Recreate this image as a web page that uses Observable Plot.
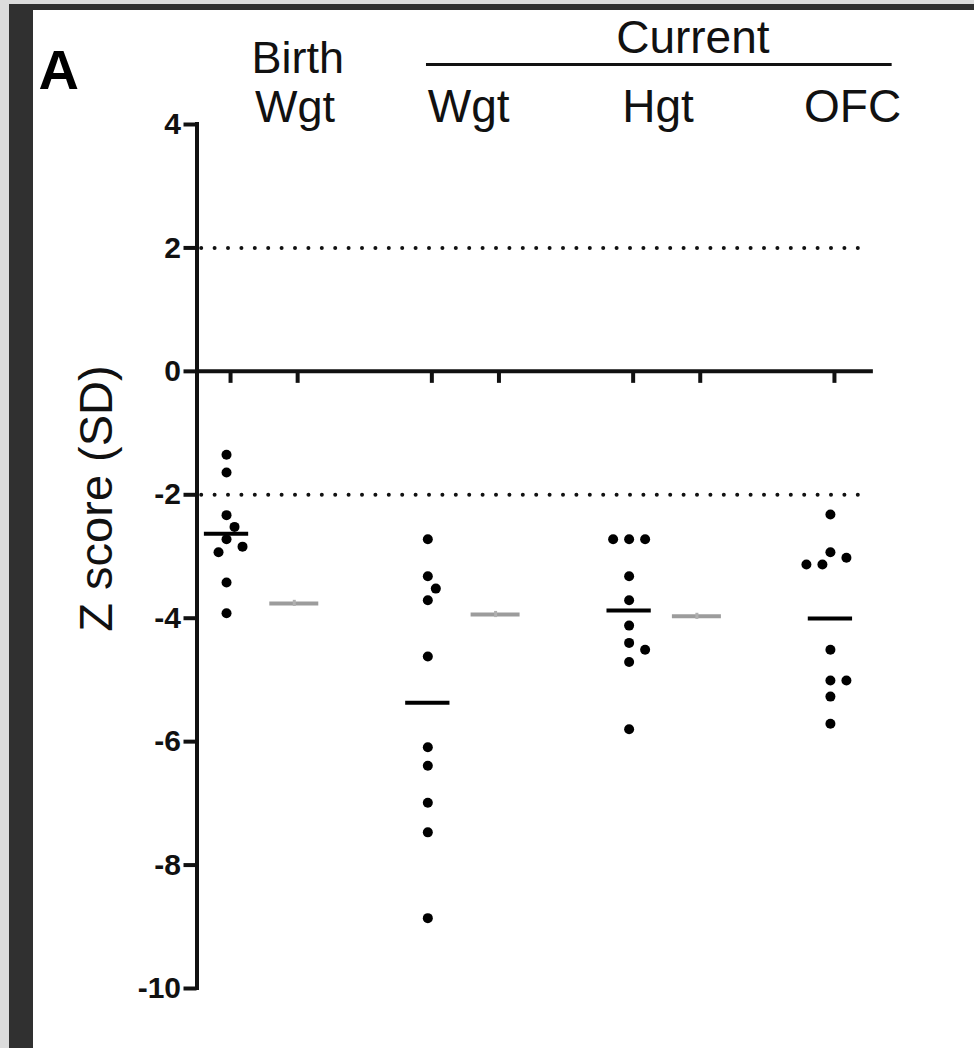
<!DOCTYPE html>
<html><head><meta charset="utf-8">
<script src="https://cdn.jsdelivr.net/npm/d3@7"></script>
<script src="https://cdn.jsdelivr.net/npm/@observablehq/plot@0.6"></script>
<style>
html,body{margin:0;padding:0;background:#dcdcdc;width:974px;height:1048px;overflow:hidden}
#frame{position:absolute;left:9px;top:4px;width:965px;height:1044px;background:#303030}
#chart{position:absolute;left:24px;top:6px;width:941px;height:1038px;background:#fff}
#chart svg{display:block}
</style></head><body><div id="frame"><div id="chart"></div></div>
<script>
// ---- data ----
const groups = ["Birth Wgt", "Current Wgt", "Current Hgt", "Current OFC"];
const birthWgt   = [-1.35, -1.64, -2.33, -2.52, -2.72, -2.84, -2.93, -3.42, -3.92];
const currentWgt = [-2.72, -3.32, -3.52, -3.71, -4.62, -6.09, -6.39, -6.99, -7.47, -8.86];
const currentHgt = [-2.72, -2.72, -2.72, -3.32, -3.71, -4.12, -4.40, -4.51, -4.71, -5.80];
const currentOFC = [-2.32, -2.93, -3.02, -3.13, -3.13, -4.51, -5.01, -5.01, -5.27, -5.71];
const refGroups = ["Birth Wgt", "Current Wgt", "Current Hgt"];
const refMeans  = [-3.76, -3.94, -3.97];
const refSEM    = [0.05, 0.05, 0.05];
const yTicks = [4, 2, 0, -2, -4, -6, -8, -10];
const refLines = [2, -2];
const yLabel = "Z score (SD)";
const panelLabel = "A";

// ---- layout (category slots on the x axis) ----
const pointSlot = [0, 3, 6, 9];
const refSlot = [1, 4, 7];
const xTickSlots = [0, 1, 3, 4, 6, 7, 9];
const slotShift = -0.06;
const W = 941, H = 1038;
const mL = 163.5, mR = 106.5, mT = 114, mB = 60;
const pxX = (W - mL - mR) / 10, pxY = (H - mT - mB) / 14;
const font = "'Liberation Sans', Arial, Helvetica, sans-serif";

// simple beeswarm computed from values
function swarm(values, slot, group) {
  const step = 8, minD = 13;
  const placed = [];
  const sorted = values.slice().sort((a, b) => b - a);
  return sorted.map(v => {
    const py = -v * pxY;
    for (let k = 0; ; k++) {
      const off = k === 0 ? 0 : (k % 2 ? 1 : -1) * Math.ceil(k / 2) * step;
      if (placed.every(p => Math.hypot(p.px - off, p.py - py) >= minD)) {
        placed.push({px: off, py});
        return {group, value: v, x: slot + slotShift + off / pxX};
      }
    }
  });
}
const series = [birthWgt, currentWgt, currentHgt, currentOFC];
const points = series.flatMap((vals, i) => swarm(vals, pointSlot[i], groups[i]));
const means = series.map((vals, i) => ({group: groups[i], x: pointSlot[i] + slotShift, value: d3.mean(vals)}));
const refs = refGroups.map((g, i) => ({group: g, x: refSlot[i] - 0.05, value: refMeans[i], sem: refSEM[i]}));
const halfBar = 0.33, halfRef = 0.365;

const headersBirth1 = [{text: "Birth", x: 1}];
const headersBirth2 = [{text: "Wgt", x: 0.96}];
const headersCur = [{text: "Wgt", x: 3.55}, {text: "Hgt", x: 6.37}, {text: "OFC", x: 9.27}];
const headerGroup = [{text: "Current", x: 6.89, x1: 2.92, x2: 9.86}];

const chart = Plot.plot({
  width: W, height: H,
  marginLeft: mL, marginRight: mR, marginTop: mT, marginBottom: mB,
  x: {domain: [-0.5, 9.5], axis: null},
  y: {domain: [-10, 4], axis: null},
  style: {fontFamily: font, background: "transparent", overflow: "visible"},
  marks: [
    Plot.ruleY(refLines, {stroke: "#111", strokeWidth: 4, strokeDasharray: "0 13.4", strokeLinecap: "round", strokeDashoffset: -4.7}),
    Plot.ruleY([0], {x1: -0.5, x2: 9.58, stroke: "#111", strokeWidth: 4}),
    Plot.ruleX(xTickSlots, {x: d => d, y1: 0, y2: 0, insetBottom: -12, stroke: "#111", strokeWidth: 4}),
    Plot.ruleX([-0.5], {y1: -10, y2: 4, stroke: "#111", strokeWidth: 4, strokeLinecap: "square"}),
    Plot.axisY({ticks: yTicks, tickSize: 13, tickPadding: 3, strokeWidth: 4, stroke: "#111",
      fontSize: 30, fontWeight: "bold", fill: "#111", tickFormat: d => String(d), label: null}),
    Plot.ruleY(refs, {y: "value", x1: d => d.x - halfRef, x2: d => d.x + halfRef, stroke: "#9c9c9c", strokeWidth: 4}),
    Plot.ruleX(refs, {x: "x", y1: d => d.value - d.sem, y2: d => d.value + d.sem, stroke: "#b0b0b0", strokeWidth: 3}),
    Plot.ruleY(means, {y: "value", x1: d => d.x - halfBar, x2: d => d.x + halfBar, stroke: "#000", strokeWidth: 4}),
    Plot.dot(points, {x: "x", y: "value", r: 5, fill: "#000", stroke: null}),
    Plot.text([panelLabel], {frameAnchor: "top-left", textAnchor: "start", lineAnchor: "bottom",
      dx: -158.5, dy: -36, fontSize: 56, fontWeight: "bold", fill: "#000"}),
    Plot.text([yLabel], {frameAnchor: "top-left", rotate: -90, textAnchor: "middle",
      dx: -118.5, dy: 374, fontSize: 47, fill: "#111"}),
    Plot.text(headersBirth1, {x: "x", text: "text", frameAnchor: "top", lineAnchor: "bottom",
      dy: -52, fontSize: 45, fill: "#111"}),
    Plot.text(headersBirth2, {x: "x", text: "text", frameAnchor: "top", lineAnchor: "bottom",
      dy: -3, fontSize: 45, fill: "#111"}),
    Plot.text(headersCur, {x: "x", text: "text", frameAnchor: "top", lineAnchor: "bottom",
      dy: -3, fontSize: 46, fill: "#111"}),
    Plot.text(headerGroup, {x: "x", text: "text", frameAnchor: "top", lineAnchor: "bottom",
      dy: -72, fontSize: 46, fill: "#111"}),
    Plot.ruleY(headerGroup, {y: () => 4, x1: "x1", x2: "x2", dy: -60, stroke: "#111", strokeWidth: 3})
  ]
});
document.getElementById("chart").appendChild(chart);
</script></body></html>
